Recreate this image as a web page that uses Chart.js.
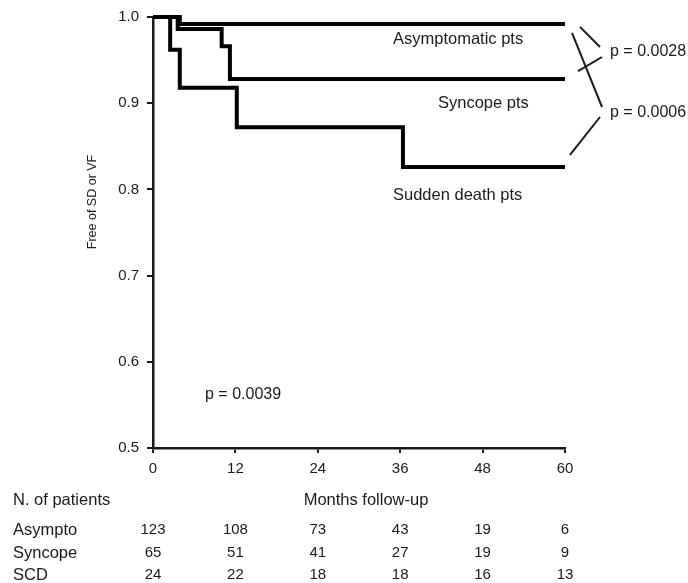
<!DOCTYPE html>
<html>
<head>
<meta charset="utf-8">
<script src="https://cdn.jsdelivr.net/npm/chart.js@4/dist/chart.umd.min.js"></script>
<style>
  html, body { margin: 0; padding: 0; background: #fff; }
  #wrap { width: 688px; height: 583px; position: relative; }
</style>
</head>
<body>
<div id="wrap"><canvas id="km"></canvas></div>
<script>
// Kaplan-Meier survival steps (month of event, survival after event)
const asymMonths = [0, 3.9, 60];
const asymSurv   = [1.0, 0.992, 0.992];
const syncMonths = [0, 3.6, 10.0, 11.2, 60];
const syncSurv   = [1.0, 0.986, 0.966, 0.928, 0.928];
const scdMonths  = [0, 2.5, 3.9, 12.2, 36.4, 60];
const scdSurv    = [1.0, 0.962, 0.918, 0.872, 0.826, 0.826];

// Axis ticks
const monthTicks = [0, 12, 24, 36, 48, 60];
const survTicks  = [0.5, 0.6, 0.7, 0.8, 0.9, 1.0];

// Numbers at risk
const riskGroups = ['Asympto', 'Syncope', 'SCD'];
const riskAsympto = [123, 108, 73, 43, 19, 6];
const riskSyncope = [65, 51, 41, 27, 19, 9];
const riskSCD     = [24, 22, 18, 18, 16, 13];

// Curve labels and p-values
const curveLabels = ['Asymptomatic pts', 'Syncope pts', 'Sudden death pts'];
const pPairs = ['p = 0.0028', 'p = 0.0006'];
const pOverall = 'p = 0.0039';

const toPoints = (xs, ys) => xs.map((x, i) => ({ x: x, y: ys[i] }));

const FONT = '"Liberation Sans", Arial, Helvetica, sans-serif';
const INK = '#1a1a1a';

const annotations = {
  id: 'annotations',
  afterDraw(chart) {
    const ctx = chart.ctx;
    const xs = chart.scales.x, ys = chart.scales.y;
    const xEnd = xs.getPixelForValue(60);
    ctx.save();
    ctx.fillStyle = INK;
    ctx.textBaseline = 'middle';

    // curve labels
    ctx.font = '16.5px ' + FONT;
    ctx.textAlign = 'left';
    ctx.fillText(curveLabels[0], 393, 39);
    ctx.fillText(curveLabels[1], 438, 103);
    ctx.fillText(curveLabels[2], 393, 195);

    // p-values
    ctx.font = '16px ' + FONT;
    ctx.fillText(pPairs[0], 610, 52);
    ctx.fillText(pPairs[1], 610, 113);
    ctx.fillText(pOverall, 205, 395);

    // brackets linking curve pairs to their p-values
    const yAsym = ys.getPixelForValue(asymSurv[asymSurv.length - 1]);
    const ySync = ys.getPixelForValue(syncSurv[syncSurv.length - 1]);
    const yScd  = ys.getPixelForValue(scdSurv[scdSurv.length - 1]);
    ctx.strokeStyle = INK;
    ctx.lineWidth = 2;
    ctx.lineCap = 'butt';
    const seg = (x1, y1, x2, y2) => { ctx.beginPath(); ctx.moveTo(x1, y1); ctx.lineTo(x2, y2); ctx.stroke(); };
    seg(xEnd + 15, yAsym + 3, xEnd + 35, 47);
    seg(xEnd + 13, ySync - 8, xEnd + 37, 57);
    seg(xEnd + 7, yAsym + 9, xEnd + 37, 107);
    seg(xEnd + 5, yScd - 12, xEnd + 35, 117);

    // y-axis title
    ctx.save();
    ctx.translate(93, 202);
    ctx.rotate(-Math.PI / 2);
    ctx.textAlign = 'center';
    ctx.font = '12.5px ' + FONT;
    ctx.fillText('Free of SD or VF', 0, 0);
    ctx.restore();

    // x-axis title and numbers-at-risk table
    ctx.font = '16.5px ' + FONT;
    ctx.textAlign = 'left';
    ctx.fillText('N. of patients', 13, 500);
    ctx.textAlign = 'center';
    ctx.fillText('Months follow-up', 366, 500);

    const rows = [riskAsympto, riskSyncope, riskSCD];
    const rowY = [530, 553, 575];
    rows.forEach((vals, r) => {
      ctx.font = '16.5px ' + FONT;
      ctx.textAlign = 'left';
      ctx.fillText(riskGroups[r], 13, rowY[r]);
      ctx.font = '15px ' + FONT;
      ctx.textAlign = 'center';
      vals.forEach((v, i) => {
        ctx.fillText(String(v), xs.getPixelForValue(monthTicks[i]), rowY[r]);
      });
    });
    ctx.restore();
  }
};

const lineStyle = {
  borderColor: '#000',
  borderWidth: 4,
  pointRadius: 0,
  fill: false,
  stepped: 'before',
  showLine: true,
  clip: false,
  borderJoinStyle: 'miter',
  borderCapStyle: 'butt'
};

new Chart(document.getElementById('km'), {
  type: 'scatter',
  data: {
    datasets: [
      Object.assign({ label: 'Asymptomatic', data: toPoints(asymMonths, asymSurv) }, lineStyle),
      Object.assign({ label: 'Syncope', data: toPoints(syncMonths, syncSurv) }, lineStyle),
      Object.assign({ label: 'Sudden death', data: toPoints(scdMonths, scdSurv) }, lineStyle)
    ]
  },
  options: {
    responsive: true,
    maintainAspectRatio: false,
    animation: false,
    devicePixelRatio: 1,
    layout: { padding: { top: 17, right: 123, left: 0, bottom: 0 } },
    plugins: {
      legend: { display: false },
      tooltip: { enabled: false }
    },
    scales: {
      x: {
        type: 'linear',
        min: 0,
        max: 60,
        afterBuildTicks(scale) { scale.ticks = monthTicks.map(v => ({ value: v })); },
        afterFit(scale) { scale.height = 135; },
        grid: { display: true, drawOnChartArea: false, drawTicks: true, tickLength: 5, color: INK, lineWidth: 2 },
        border: { display: true, color: INK, width: 2.5 },
        ticks: { color: INK, font: { family: FONT, size: 15 }, padding: 7, maxRotation: 0 }
      },
      y: {
        type: 'linear',
        min: 0.5,
        max: 1.0,
        afterBuildTicks(scale) { scale.ticks = survTicks.map(v => ({ value: v })); },
        afterFit(scale) { scale.width = 153; },
        grid: { display: true, drawOnChartArea: false, drawTicks: true, tickLength: 6, color: INK, lineWidth: 2 },
        border: { display: true, color: INK, width: 2.5 },
        ticks: { color: INK, font: { family: FONT, size: 15 }, padding: 8, callback: v => Number(v).toFixed(1) }
      }
    }
  },
  plugins: [annotations]
});
</script>
</body>
</html>
